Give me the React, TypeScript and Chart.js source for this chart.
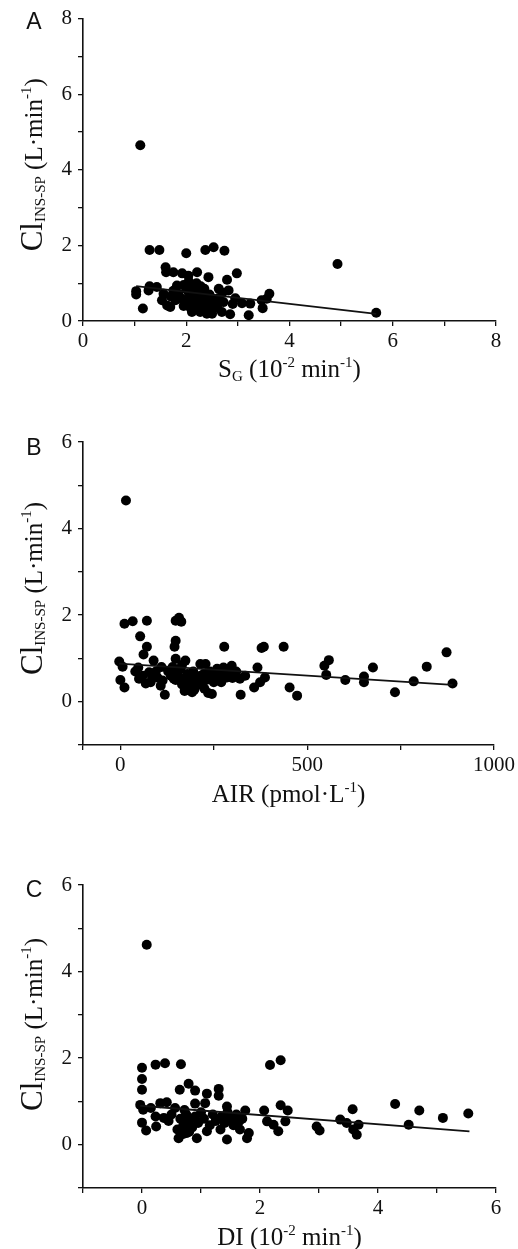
import React, { useEffect, useRef } from 'react';
import { Chart, registerables } from 'chart.js';
Chart.register(...registerables);

// ---------- Panel A: S_G ----------
const aX = [1.11, 1.29, 1.48, 2.0, 2.37, 2.53, 2.74, 4.93, 5.68, 1.6, 1.61, 1.75, 1.92, 2.21, 2.04, 2.43, 2.79, 2.98, 1.03, 1.03, 1.16, 1.29, 1.27, 1.43, 1.56, 1.53, 1.63, 1.69, 1.79, 1.85, 1.82, 2.63, 2.82, 2.72, 2.69, 2.85, 3.08, 3.24, 3.21, 3.46, 3.48, 3.61, 3.56, 2.5, 2.4, 2.27, 2.11, 2.17, 1.95, 2.0, 2.05, 2.1, 2.15, 2.2, 2.25, 2.3, 2.35, 2.1, 2.0, 1.95, 2.2, 2.3, 2.4, 2.45, 2.5, 2.55, 2.6, 2.15, 2.25, 2.05, 2.35, 2.45, 2.12, 2.28, 2.18, 2.38, 2.08, 2.62, 2.7, 1.7, 1.9, 1.75, 2.9, 2.95];
const aY = [4.65, 1.88, 1.88, 1.79, 1.88, 1.95, 1.86, 1.51, 0.22, 1.42, 1.29, 1.29, 1.26, 1.29, 1.2, 1.16, 1.09, 1.26, 0.79, 0.7, 0.33, 0.92, 0.81, 0.9, 0.72, 0.55, 0.41, 0.37, 0.55, 0.72, 0.94, 0.85, 0.81, 0.5, 0.24, 0.18, 0.47, 0.46, 0.15, 0.55, 0.34, 0.72, 0.59, 0.19, 0.19, 0.24, 0.24, 0.41, 0.95, 0.85, 0.75, 0.65, 0.9, 1.0, 0.8, 0.7, 0.6, 0.5, 0.55, 0.4, 0.45, 0.35, 0.5, 0.7, 0.6, 0.45, 0.35, 0.3, 0.55, 1.05, 0.85, 0.3, 0.78, 0.92, 0.62, 0.42, 0.35, 0.6, 0.75, 0.65, 0.6, 0.8, 0.45, 0.6];
const fitAX = [1.03, 5.68];
const fitAY = [0.92, 0.19];
const aXTicks = [0, 1, 2, 3, 4, 5, 6, 7, 8];
const aXLabels = [0, 2, 4, 6, 8];
const aYTicks = [0, 1, 2, 3, 4, 5, 6, 7, 8];
const aYLabels = [0, 2, 4, 6, 8];

// ---------- Panel B: AIR ----------
const bX = [15, 11, 33, 71, 53, 71, 62, 148, 157, 163, 148, 145, 278, 378, 384, 437, 873, -3, 6, 0, 11, 48, 50, 89, 77, 99, 81, 108, 119, 113, 148, 143, 161, 174, 179, 170, 188, 192, 201, 214, 228, 223, 219, 245, 245, 259, 276, 298, 285, 303, 320, 322, 334, 367, 358, 374, 387, 453, 473, 546, 558, 551, 602, 652, 652, 676, 735, 785, 820, 889, 150, 155, 160, 165, 175, 185, 190, 195, 200, 205, 210, 230, 240, 250, 265, 270, 280, 290, 300, 310, 128, 135, 140, 148, 165, 180, 172, 198, 215, 225, 235, 110, 95, 85, 60, 68, 40];
const bY = [4.65, 1.8, 1.86, 1.87, 1.51, 1.27, 1.09, 1.87, 1.94, 1.85, 1.41, 1.27, 1.27, 1.24, 1.27, 1.27, 1.14, 0.93, 0.81, 0.5, 0.33, 0.79, 0.53, 0.95, 0.68, 0.56, 0.45, 0.37, 0.16, 0.49, 0.99, 0.53, 0.76, 0.95, 0.64, 0.45, 0.33, 0.22, 0.49, 0.87, 0.87, 0.64, 0.41, 0.18, 0.6, 0.76, 0.79, 0.83, 0.56, 0.64, 0.53, 0.16, 0.6, 0.79, 0.33, 0.45, 0.56, 0.33, 0.14, 0.83, 0.96, 0.62, 0.5, 0.58, 0.45, 0.79, 0.22, 0.47, 0.81, 0.42, 0.7, 0.6, 0.5, 0.4, 0.55, 0.6, 0.5, 0.7, 0.35, 0.55, 0.4, 0.5, 0.7, 0.45, 0.6, 0.45, 0.7, 0.75, 0.55, 0.7, 0.7, 0.6, 0.8, 0.5, 0.85, 0.3, 0.25, 0.28, 0.6, 0.3, 0.2, 0.8, 0.7, 0.55, 0.6, 0.42, 0.7];
const fitBX = [-3, 889];
const fitBY = [0.88, 0.39];
const bXTicks = [-100, 0, 250, 500, 750, 1000];
const bXLabels = [0, 500, 1000];
const bYTicks = [-1, 0, 1, 2, 3, 4, 5, 6];
const bYLabels = [0, 2, 4, 6];

// ---------- Panel C: DI ----------
const cX = [0.08, 0.0, 0.0, 0.0, 0.23, 0.39, 0.66, 2.17, 2.35, 0.64, 0.79, 0.9, 1.1, 1.07, 1.3, 1.3, -0.03, 0.02, 0.0, 0.07, 0.15, 0.31, 0.42, 0.56, 0.23, 0.24, 0.37, 0.9, 1.44, 1.75, 2.07, 2.35, 2.47, 3.36, 3.57, 4.29, 4.52, 4.7, 5.1, 5.53, 2.96, 3.01, 3.47, 3.58, 3.67, 3.64, 2.12, 2.23, 2.31, 2.43, 0.62, 1.44, 1.78, 0.93, 1.1, 0.76, 1.33, 1.66, 1.81, 0.65, 0.7, 0.75, 0.8, 0.85, 0.9, 0.95, 1.0, 1.05, 1.15, 1.2, 1.25, 1.35, 1.4, 1.45, 1.5, 1.55, 1.6, 1.65, 1.7, 0.6, 0.7, 0.8, 0.72, 0.5, 0.45];
const cY = [4.62, 1.78, 1.52, 1.27, 1.85, 1.88, 1.86, 1.84, 1.95, 1.27, 1.41, 1.25, 1.18, 0.96, 1.29, 1.13, 0.92, 0.81, 0.51, 0.33, 0.85, 0.96, 0.98, 0.85, 0.65, 0.42, 0.62, 0.95, 0.88, 0.79, 0.79, 0.91, 0.79, 0.58, 0.82, 0.94, 0.46, 0.79, 0.62, 0.72, 0.42, 0.33, 0.5, 0.35, 0.46, 0.23, 0.54, 0.46, 0.31, 0.54, 0.15, 0.12, 0.15, 0.15, 0.31, 0.27, 0.35, 0.35, 0.27, 0.6, 0.45, 0.7, 0.55, 0.4, 0.65, 0.5, 0.75, 0.6, 0.45, 0.7, 0.55, 0.65, 0.5, 0.75, 0.6, 0.45, 0.7, 0.55, 0.6, 0.35, 0.25, 0.3, 0.8, 0.7, 0.55];
const fitCX = [-0.03, 5.55];
const fitCY = [0.9, 0.31];
const cXTicks = [-1, 0, 1, 2, 3, 4, 5, 6];
const cXLabels = [0, 2, 4, 6];
const cYTicks = [-1, 0, 1, 2, 3, 4, 5, 6];
const cYLabels = [0, 2, 4, 6];

type Seg = { t: string; s: number; dy: number };

const SERIF = '"Liberation Serif", "Times New Roman", serif';
const SANS = '"Liberation Sans", Arial, sans-serif';
const INK = '#111';

const yTitleSegs: Seg[] = [
  { t: 'Cl', s: 31, dy: 0 },
  { t: 'INS-SP', s: 15, dy: 3 },
  { t: ' (L·min', s: 25, dy: 0 },
  { t: '-1', s: 15, dy: -11 },
  { t: ')', s: 25, dy: 0 },
];
const xTitleA: Seg[] = [
  { t: 'S', s: 25, dy: 0 },
  { t: 'G', s: 15, dy: 4 },
  { t: ' (10', s: 25, dy: 0 },
  { t: '-2', s: 15, dy: -10 },
  { t: ' min', s: 25, dy: 0 },
  { t: '-1', s: 15, dy: -10 },
  { t: ')', s: 25, dy: 0 },
];
const xTitleB: Seg[] = [
  { t: 'AIR (pmol·L', s: 25, dy: 0 },
  { t: '-1', s: 15, dy: -10 },
  { t: ')', s: 25, dy: 0 },
];
const xTitleC: Seg[] = [
  { t: 'DI (10', s: 25, dy: 0 },
  { t: '-2', s: 15, dy: -10 },
  { t: ' min', s: 25, dy: 0 },
  { t: '-1', s: 15, dy: -10 },
  { t: ')', s: 25, dy: 0 },
];

function drawRich(ctx: CanvasRenderingContext2D, segs: Seg[], x: number, y: number, rotate: boolean) {
  ctx.save();
  ctx.translate(x, y);
  if (rotate) ctx.rotate(-Math.PI / 2);
  ctx.textAlign = 'left';
  ctx.textBaseline = 'alphabetic';
  ctx.fillStyle = INK;
  let total = 0;
  for (const g of segs) {
    ctx.font = `${g.s}px ${SERIF}`;
    total += ctx.measureText(g.t).width;
  }
  let cx = -total / 2;
  for (const g of segs) {
    ctx.font = `${g.s}px ${SERIF}`;
    ctx.fillText(g.t, cx, g.dy);
    cx += ctx.measureText(g.t).width;
  }
  ctx.restore();
}

type PanelProps = {
  top: number;
  height: number;
  area: { top: number; bottom: number; left: number; right: number };
  xs: number[];
  ys: number[];
  fx: number[];
  fy: number[];
  xMin: number;
  xMax: number;
  yMin: number;
  yMax: number;
  xTicks: number[];
  xLabels: number[];
  yTicks: number[];
  yLabels: number[];
  letter: string;
  letterPos: [number, number];
  xTitle: Seg[];
  xTitleBaseline: number;
  yTitleX: number;
  yTitleShift: number;
};

function Panel(p: PanelProps) {
  const ref = useRef<HTMLCanvasElement | null>(null);
  useEffect(() => {
    if (!ref.current) return;
    const points = p.xs.map((x, i) => ({ x, y: p.ys[i] }));
    const fit = p.fx.map((x, i) => ({ x, y: p.fy[i] }));
    const titles = {
      id: 'titles',
      afterDraw(chart: any) {
        const ctx = chart.ctx as CanvasRenderingContext2D;
        const ca = chart.chartArea;
        ctx.save();
        ctx.fillStyle = INK;
        ctx.font = `23px ${SANS}`;
        ctx.textAlign = 'center';
        ctx.textBaseline = 'middle';
        ctx.fillText(p.letter, p.letterPos[0], p.letterPos[1]);
        ctx.restore();
        drawRich(ctx, yTitleSegs, p.yTitleX, (ca.top + ca.bottom) / 2 + p.yTitleShift, true);
        drawRich(ctx, p.xTitle, (ca.left + ca.right) / 2, p.xTitleBaseline, false);
      },
    };
    const tickFont = { family: SERIF, size: 21 };
    const chart = new Chart(ref.current, {
      type: 'scatter',
      data: {
        datasets: [
          {
            data: fit,
            showLine: true,
            borderColor: INK,
            borderWidth: 1.8,
            pointRadius: 0,
            clip: false,
          } as any,
          {
            data: points,
            backgroundColor: '#000',
            borderWidth: 0,
            pointRadius: 5,
            clip: false,
          } as any,
        ],
      },
      options: {
        animation: false,
        responsive: false,
        events: [],
        layout: { padding: { top: p.area.top, right: 518 - p.area.right, left: 0, bottom: 0 } },
        plugins: { legend: { display: false }, tooltip: { enabled: false } },
        scales: {
          x: {
            type: 'linear',
            min: p.xMin,
            max: p.xMax,
            afterBuildTicks: (s: any) => {
              s.ticks = p.xTicks.map((v) => ({ value: v }));
            },
            afterFit: (s: any) => {
              s.height = p.height - p.area.bottom;
            },
            ticks: {
              autoSkip: false,
              maxRotation: 0,
              padding: 3,
              color: INK,
              font: tickFont,
              callback: (v: any) => (p.xLabels.includes(Number(v)) ? String(v) : ''),
            },
            grid: { drawOnChartArea: false, drawTicks: true, tickLength: 5, color: INK, lineWidth: 1.3 },
            border: { display: true, color: INK, width: 1.6 },
          },
          y: {
            type: 'linear',
            min: p.yMin,
            max: p.yMax,
            afterBuildTicks: (s: any) => {
              s.ticks = p.yTicks.map((v) => ({ value: v }));
            },
            afterFit: (s: any) => {
              s.width = p.area.left;
            },
            ticks: {
              autoSkip: false,
              padding: 6,
              color: INK,
              font: tickFont,
              callback: (v: any) => (p.yLabels.includes(Number(v)) ? String(v) : ''),
            },
            grid: { drawOnChartArea: false, drawTicks: true, tickLength: 5, color: INK, lineWidth: 1.3 },
            border: { display: true, color: INK, width: 1.6 },
          },
        },
      },
      plugins: [titles],
    } as any);
    return () => chart.destroy();
  }, []);
  return (
    <canvas
      ref={ref}
      width={518}
      height={p.height}
      style={{ position: 'absolute', left: 0, top: p.top, width: 518, height: p.height, display: 'block' }}
    />
  );
}

export default function App() {
  return (
    <div style={{ position: 'absolute', left: 0, top: 0, width: 518, height: 1249, background: '#fff', overflow: 'hidden' }}>
      <Panel
        top={0}
        height={395}
        area={{ top: 17, bottom: 321, left: 83, right: 496 }}
        xs={aX}
        ys={aY}
        fx={fitAX}
        fy={fitAY}
        xMin={0}
        xMax={8}
        yMin={0}
        yMax={8}
        xTicks={aXTicks}
        xLabels={aXLabels}
        yTicks={aYTicks}
        yLabels={aYLabels}
        letter="A"
        letterPos={[34, 23]}
        xTitle={xTitleA}
        xTitleBaseline={377}
        yTitleX={42}
        yTitleShift={-5}
      />
      <Panel
        top={400}
        height={425}
        area={{ top: 42, bottom: 345, left: 83, right: 496 }}
        xs={bX}
        ys={bY}
        fx={fitBX}
        fy={fitBY}
        xMin={-100}
        xMax={1000}
        yMin={-1}
        yMax={6}
        xTicks={bXTicks}
        xLabels={bXLabels}
        yTicks={bYTicks}
        yLabels={bYLabels}
        letter="B"
        letterPos={[34, 49]}
        xTitle={xTitleB}
        xTitleBaseline={402}
        yTitleX={42}
        yTitleShift={-5}
      />
      <Panel
        top={830}
        height={419}
        area={{ top: 55, bottom: 358, left: 83, right: 496 }}
        xs={cX}
        ys={cY}
        fx={fitCX}
        fy={fitCY}
        xMin={-1}
        xMax={6}
        yMin={-1}
        yMax={6}
        xTicks={cXTicks}
        xLabels={cXLabels}
        yTicks={cYTicks}
        yLabels={cYLabels}
        letter="C"
        letterPos={[34, 61]}
        xTitle={xTitleC}
        xTitleBaseline={415}
        yTitleX={42}
        yTitleShift={-12}
      />
    </div>
  );
}
